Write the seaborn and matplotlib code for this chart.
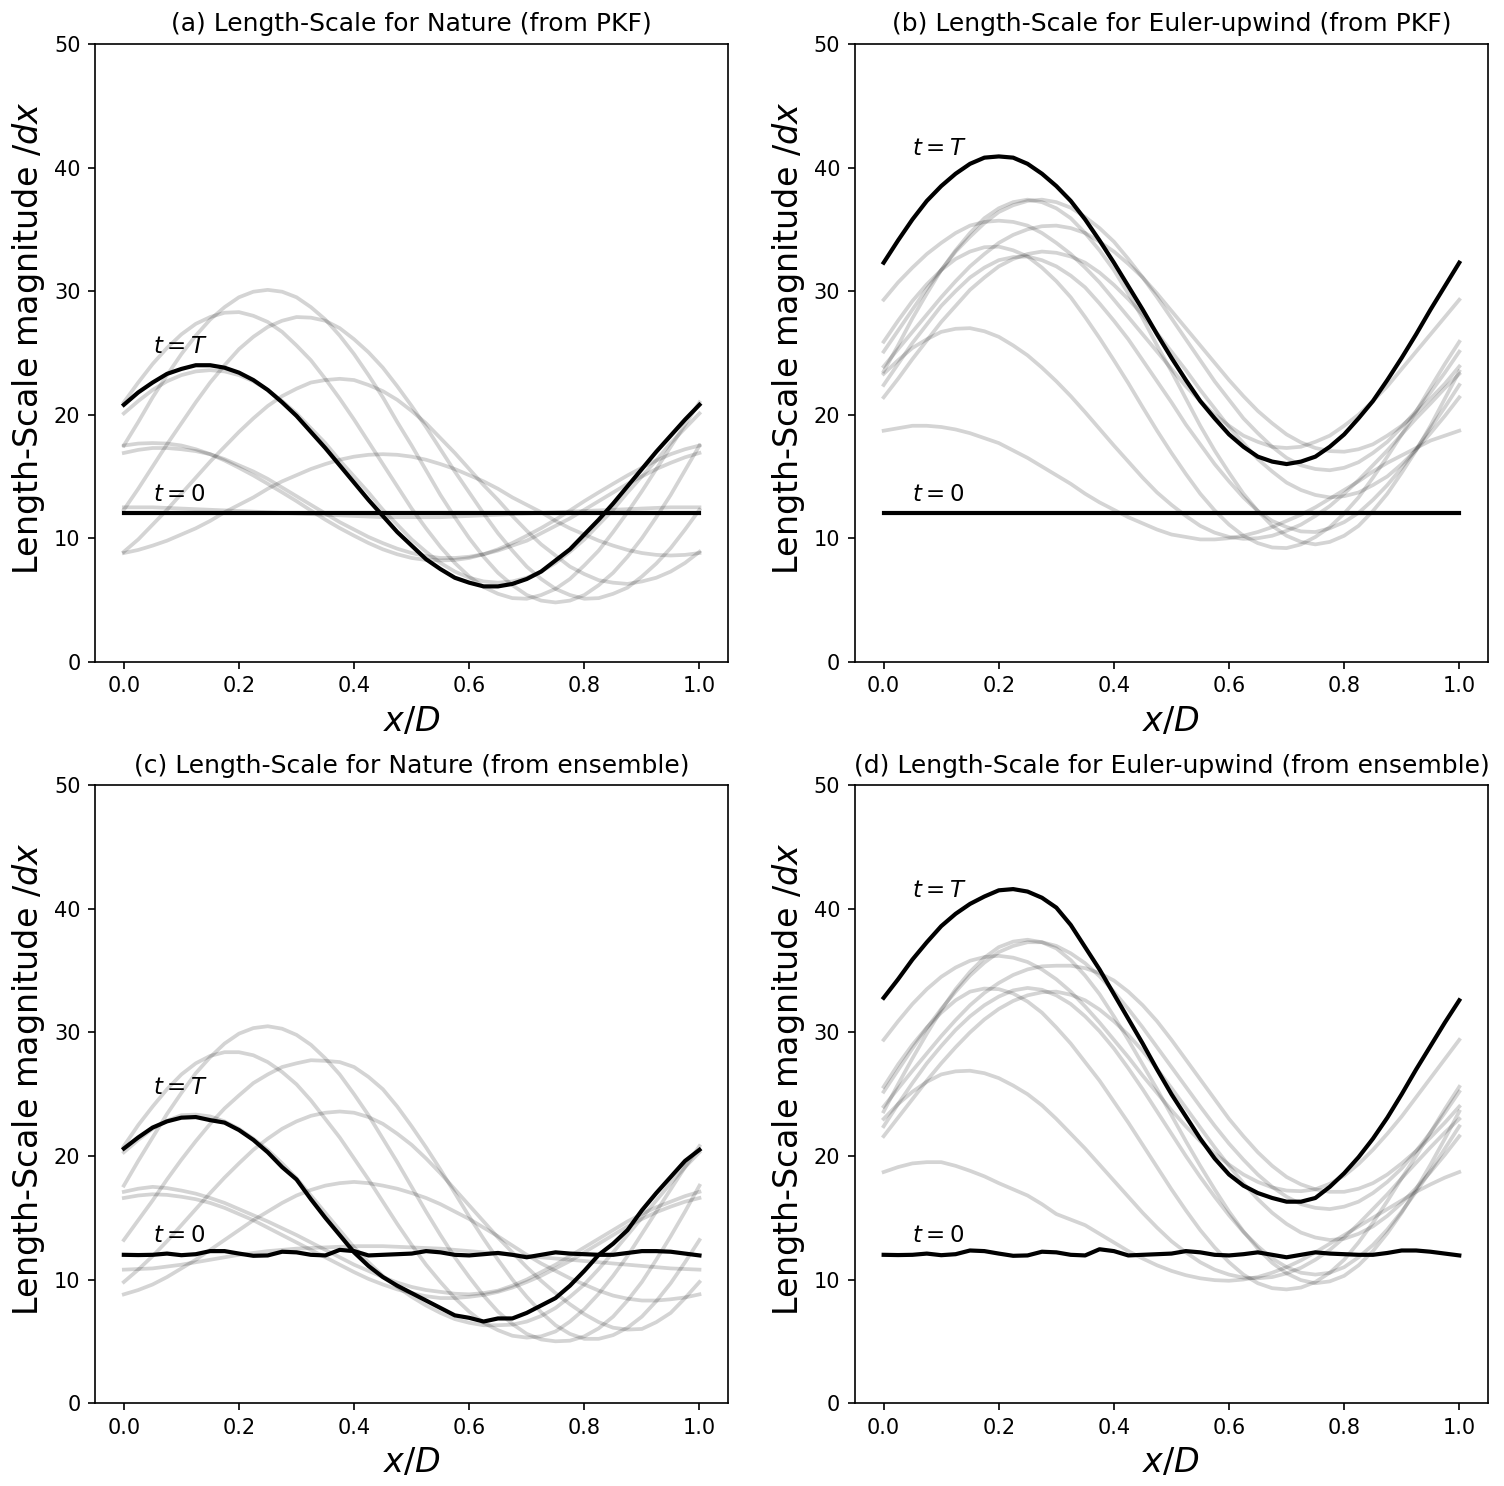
"""Length-scale snapshots for the Nature and Euler-upwind runs (PKF vs ensemble).

Gray lines are intermediate times, black lines are t=0 and t=T.
Writes out.png.
"""

import matplotlib
matplotlib.use("Agg")
import matplotlib.pyplot as plt
import seaborn as sns

sns.set_style("ticks", {
    "axes.edgecolor": "black",
    "axes.labelcolor": "black",
    "text.color": "black",
    "xtick.color": "black",
    "ytick.color": "black",
})
plt.rcParams["font.family"] = ["DejaVu Sans"]
plt.rcParams["lines.solid_capstyle"] = "projecting"

X = [0.0, 0.025, 0.05, 0.075, 0.1, 0.125, 0.15, 0.175, 0.2, 0.225,
     0.25, 0.275, 0.3, 0.325, 0.35, 0.375, 0.4, 0.425, 0.45, 0.475,
     0.5, 0.525, 0.55, 0.575, 0.6, 0.625, 0.65, 0.675, 0.7, 0.725,
     0.75, 0.775, 0.8, 0.825, 0.85, 0.875, 0.9, 0.925, 0.95, 0.975, 1.0]

FLAT_12 = [12.0] * 41

# (a) Nature, PKF
NAT_PKF_T = [20.8, 21.8, 22.6, 23.3, 23.7, 24.0, 24.0, 23.8, 23.4, 22.8,
             22.0, 21.0, 19.9, 18.6, 17.3, 15.9, 14.5, 13.1, 11.8, 10.5,
             9.4, 8.3, 7.5, 6.8, 6.4, 6.1, 6.1, 6.3, 6.7, 7.3,
             8.2, 9.1, 10.3, 11.5, 12.8, 14.2, 15.6, 17.0, 18.3, 19.6, 20.8]
NAT_PKF_MID = [
    [17.5, 17.66, 17.7, 17.66, 17.5, 17.2, 16.8, 16.29, 15.7, 15.08, 14.4, 13.71, 13.0, 12.24, 11.5, 10.82, 10.2, 9.61, 9.1, 8.7,
     8.4, 8.24, 8.2, 8.24, 8.4, 8.7, 9.1, 9.61, 10.2, 10.82, 11.5, 12.24, 13.0, 13.71, 14.4, 15.08, 15.7, 16.29, 16.8, 17.2, 17.5],
    [16.9, 17.15, 17.3, 17.3, 17.2, 17.05, 16.8, 16.4, 15.9, 15.4, 14.8, 14.1, 13.4, 12.7, 12.0, 11.3, 10.7, 10.1, 9.6, 9.15,
     8.8, 8.55, 8.4, 8.4, 8.5, 8.7, 9.0, 9.4, 9.8, 10.4, 11.0, 11.6, 12.3, 13.0, 13.7, 14.4, 15.0, 15.6, 16.1, 16.55, 16.9],
    [20.1, 21.1, 22.0, 22.7, 23.2, 23.5, 23.6, 23.5, 23.2, 22.7, 22.0, 21.1, 20.1, 18.9, 17.7, 16.3, 15.0, 13.7, 12.3, 11.1,
     9.9, 8.9, 8.0, 7.3, 6.8, 6.5, 6.4, 6.5, 6.8, 7.3, 8.0, 8.9, 9.9, 11.1, 12.3, 13.7, 15.0, 16.3, 17.7, 18.9, 20.1],
    [21.0, 22.6, 24.1, 25.4, 26.5, 27.35, 27.9, 28.25, 28.3, 28.0, 27.5, 26.7, 25.6, 24.4, 22.9, 21.3, 19.6, 17.8, 16.0, 14.2,
     12.4, 10.8, 9.3, 8.0, 6.9, 6.05, 5.5, 5.15, 5.1, 5.4, 5.9, 6.7, 7.8, 9.0, 10.5, 12.1, 13.8, 15.6, 17.4, 19.2, 21.0],
    [17.5, 19.4, 21.4, 23.2, 24.9, 26.4, 27.7, 28.7, 29.5, 29.95, 30.1, 29.95, 29.5, 28.7, 27.7, 26.4, 24.9, 23.2, 21.4, 19.4,
     17.5, 15.5, 13.5, 11.7, 10.0, 8.5, 7.2, 6.2, 5.4, 4.95, 4.8, 4.95, 5.4, 6.2, 7.2, 8.5, 10.0, 11.7, 13.5, 15.5, 17.5],
    [12.3, 14.0, 15.8, 17.6, 19.3, 21.0, 22.6, 24.0, 25.3, 26.3, 27.1, 27.6, 27.9, 27.85, 27.6, 27.0, 26.1, 25.05, 23.8, 22.3,
     20.7, 19.0, 17.2, 15.4, 13.7, 12.0, 10.4, 9.0, 7.7, 6.7, 5.9, 5.4, 5.1, 5.15, 5.5, 6.0, 6.9, 7.95, 9.2, 10.7, 12.3],
    [8.9, 9.9, 11.1, 12.3, 13.6, 14.9, 16.2, 17.4, 18.6, 19.7, 20.7, 21.5, 22.1, 22.6, 22.8, 22.9, 22.8, 22.4, 21.9, 21.2,
     20.3, 19.3, 18.1, 16.9, 15.6, 14.3, 13.1, 11.8, 10.6, 9.5, 8.6, 7.7, 7.1, 6.6, 6.4, 6.3, 6.5, 6.8, 7.3, 8.0, 8.9],
    [8.8, 9.05, 9.4, 9.8, 10.3, 10.8, 11.4, 12.1, 12.7, 13.3, 14.0, 14.6, 15.1, 15.6, 16.0, 16.35, 16.6, 16.75, 16.8, 16.75,
     16.6, 16.35, 16.0, 15.6, 15.1, 14.6, 14.0, 13.3, 12.7, 12.1, 11.4, 10.8, 10.3, 9.8, 9.4, 9.05, 8.8, 8.65, 8.6, 8.65, 8.8],
    [12.5, 12.5, 12.5, 12.45, 12.4, 12.35, 12.3, 12.25, 12.2, 12.15, 12.1, 12.05, 12.0, 11.95, 11.9, 11.85, 11.8, 11.75, 11.7, 11.7,
     11.7, 11.7, 11.7, 11.75, 11.8, 11.85, 11.9, 11.95, 12.0, 12.05, 12.1, 12.15, 12.2, 12.25, 12.3, 12.35, 12.4, 12.45, 12.5, 12.5, 12.5],
]

# (b) Euler-upwind, PKF
EUL_PKF_T = [32.3, 34.1, 35.8, 37.3, 38.5, 39.5, 40.3, 40.8, 40.9, 40.8,
             40.3, 39.5, 38.5, 37.3, 35.8, 34.1, 32.3, 30.4, 28.5, 26.5,
             24.6, 22.8, 21.1, 19.7, 18.4, 17.4, 16.6, 16.2, 16.0, 16.2,
             16.6, 17.4, 18.4, 19.7, 21.1, 22.8, 24.6, 26.5, 28.5, 30.4, 32.3]
EUL_PKF_MID = [
    [18.7, 18.9, 19.1, 19.1, 19.0, 18.8, 18.5, 18.1, 17.7, 17.1, 16.5, 15.8, 15.1, 14.4, 13.6, 12.9, 12.3, 11.7, 11.2, 10.7,
     10.3, 10.1, 9.9, 9.9, 10.0, 10.2, 10.5, 10.9, 11.4, 11.9, 12.5, 13.2, 13.9, 14.6, 15.4, 16.1, 16.7, 17.3, 17.9, 18.3, 18.7],
    [23.3, 24.4, 25.4, 26.1, 26.7, 26.95, 27.0, 26.75, 26.3, 25.6, 24.8, 23.8, 22.7, 21.5, 20.2, 18.85, 17.5, 16.2, 14.9, 13.7,
     12.7, 11.8, 11.0, 10.45, 10.1, 9.95, 10.0, 10.2, 10.6, 11.1, 11.8, 12.6, 13.6, 14.7, 15.9, 17.1, 18.4, 19.7, 20.9, 22.15, 23.3],
    [29.3, 30.7, 31.9, 33.0, 33.9, 34.7, 35.3, 35.6, 35.7, 35.6, 35.3, 34.7, 33.9, 33.0, 31.9, 30.7, 29.3, 27.9, 26.5, 25.1,
     23.7, 22.3, 21.1, 20.0, 19.1, 18.3, 17.8, 17.4, 17.3, 17.4, 17.8, 18.3, 19.1, 20.0, 21.1, 22.3, 23.7, 25.1, 26.5, 27.9, 29.3],
    [25.9, 27.6, 29.2, 30.55, 31.7, 32.6, 33.2, 33.55, 33.6, 33.3, 32.8, 31.9, 30.8, 29.5, 27.9, 26.2, 24.4, 22.55, 20.6, 18.7,
     16.9, 15.2, 13.6, 12.25, 11.1, 10.2, 9.6, 9.25, 9.2, 9.5, 10.1, 10.9, 12.0, 13.3, 14.9, 16.6, 18.4, 20.25, 22.2, 24.1, 25.9],
    [23.5, 25.6, 27.8, 29.8, 31.7, 33.3, 34.7, 35.9, 36.7, 37.2, 37.4, 37.2, 36.7, 35.9, 34.7, 33.3, 31.7, 29.8, 27.8, 25.6,
     23.5, 21.3, 19.1, 17.1, 15.3, 13.6, 12.2, 11.0, 10.2, 9.7, 9.5, 9.7, 10.2, 11.0, 12.2, 13.6, 15.3, 17.1, 19.1, 21.3, 23.5],
    [25.1, 26.8, 28.5, 30.2, 31.7, 33.2, 34.4, 35.5, 36.4, 36.95, 37.3, 37.4, 37.2, 36.75, 36.0, 35.1, 34.0, 32.6, 31.1, 29.5,
     27.8, 26.1, 24.4, 22.7, 21.2, 19.7, 18.5, 17.4, 16.5, 15.9, 15.6, 15.5, 15.7, 16.15, 16.9, 17.8, 19.0, 20.3, 21.8, 23.4, 25.1],
    [23.9, 25.3, 26.7, 28.1, 29.5, 30.8, 32.0, 33.0, 33.9, 34.55, 35.0, 35.25, 35.3, 35.1, 34.7, 34.0, 33.2, 32.2, 31.1, 29.8,
     28.4, 27.0, 25.6, 24.2, 22.8, 21.5, 20.3, 19.3, 18.4, 17.75, 17.3, 17.05, 17.0, 17.2, 17.6, 18.3, 19.1, 20.1, 21.3, 22.5, 23.9],
    [21.4, 22.9, 24.5, 26.0, 27.5, 28.8, 30.1, 31.1, 32.0, 32.6, 33.0, 33.2, 33.1, 32.8, 32.3, 31.5, 30.5, 29.35, 28.1, 26.6,
     25.1, 23.6, 22.0, 20.5, 19.0, 17.7, 16.4, 15.4, 14.5, 13.9, 13.5, 13.3, 13.4, 13.7, 14.3, 15.0, 16.0, 17.15, 18.5, 19.9, 21.4],
    [22.4, 24.1, 25.8, 27.3, 28.8, 30.0, 31.1, 31.9, 32.5, 32.75, 32.8, 32.5, 32.0, 31.25, 30.3, 29.0, 27.6, 26.1, 24.4, 22.7,
     21.0, 19.2, 17.6, 16.0, 14.6, 13.3, 12.2, 11.4, 10.9, 10.55, 10.5, 10.8, 11.3, 12.05, 13.1, 14.3, 15.7, 17.2, 18.9, 20.6, 22.4],
]

# (c) Nature, ensemble
NAT_ENS_0 = [12.0, 11.98, 12.0, 12.1, 11.97, 12.05, 12.3, 12.3, 12.1, 11.92,
             11.95, 12.25, 12.2, 12.0, 11.95, 12.4, 12.3, 11.95, 12.0, 12.05,
             12.1, 12.3, 12.2, 12.0, 11.95, 12.05, 12.15, 12.0, 11.8, 12.0,
             12.2, 12.1, 12.05, 12.0, 12.0, 12.15, 12.3, 12.3, 12.25, 12.1, 11.95]
NAT_ENS_T = [20.6, 21.5, 22.3, 22.8, 23.1, 23.15, 22.9, 22.7, 22.1, 21.3,
             20.3, 19.1, 18.1, 16.5, 15.0, 13.6, 12.2, 11.1, 10.2, 9.5,
             8.9, 8.3, 7.7, 7.1, 6.9, 6.6, 6.85, 6.85, 7.3, 7.9,
             8.5, 9.5, 10.7, 12.0, 12.9, 14.0, 15.6, 17.0, 18.3, 19.6, 20.5]
NAT_ENS_MID = [
    [17.1, 17.35, 17.5, 17.4, 17.2, 16.95, 16.6, 16.2, 15.7, 15.2, 14.7, 14.15, 13.6, 13.0, 12.4, 11.8, 11.2, 10.7, 10.2, 9.75,
     9.4, 9.15, 9.0, 8.85, 8.8, 8.9, 9.1, 9.5, 10.0, 10.6, 11.2, 11.9, 12.6, 13.3, 14.0, 14.7, 15.3, 15.85, 16.3, 16.75, 17.1],
    [16.6, 16.8, 16.9, 16.85, 16.7, 16.5, 16.2, 15.8, 15.3, 14.8, 14.2, 13.6, 13.0, 12.4, 11.8, 11.2, 10.6, 10.05, 9.6, 9.2,
     8.9, 8.65, 8.5, 8.5, 8.6, 8.75, 9.0, 9.35, 9.8, 10.3, 10.9, 11.5, 12.2, 12.9, 13.6, 14.3, 14.9, 15.45, 15.9, 16.3, 16.6],
    [20.3, 21.3, 22.2, 22.85, 23.3, 23.35, 23.2, 22.8, 22.2, 21.4, 20.5, 19.4, 18.2, 16.8, 15.4, 14.0, 12.6, 11.4, 10.3, 9.4,
     8.6, 7.9, 7.3, 6.8, 6.5, 6.3, 6.3, 6.35, 6.6, 7.05, 7.7, 8.6, 9.6, 10.85, 12.2, 13.6, 15.0, 16.4, 17.8, 19.1, 20.3],
    [20.8, 22.5, 24.0, 25.4, 26.6, 27.5, 28.1, 28.4, 28.4, 28.15, 27.6, 26.8, 25.8, 24.5, 23.0, 21.5, 19.8, 18.1, 16.3, 14.5,
     12.8, 11.2, 9.8, 8.5, 7.4, 6.5, 5.9, 5.45, 5.3, 5.4, 5.8, 6.6, 7.6, 8.85, 10.3, 11.9, 13.7, 15.5, 17.3, 19.1, 20.8],
    [17.6, 19.6, 21.5, 23.4, 25.1, 26.7, 28.0, 29.1, 29.9, 30.35, 30.5, 30.3, 29.8, 29.0, 27.9, 26.6, 25.0, 23.3, 21.4, 19.5,
     17.5, 15.5, 13.6, 11.8, 10.2, 8.7, 7.4, 6.4, 5.6, 5.15, 5.0, 5.05, 5.4, 6.05, 7.0, 8.3, 9.8, 11.6, 13.5, 15.5, 17.6],
    [13.2, 14.8, 16.4, 18.1, 19.7, 21.2, 22.6, 23.85, 24.9, 25.9, 26.6, 27.2, 27.5, 27.75, 27.7, 27.6, 27.2, 26.4, 25.4, 24.0,
     22.4, 20.7, 18.9, 17.0, 15.1, 13.3, 11.6, 10.0, 8.6, 7.35, 6.3, 5.6, 5.2, 5.2, 5.5, 6.1, 7.0, 8.25, 9.7, 11.4, 13.2],
    [9.8, 10.8, 11.9, 13.1, 14.4, 15.7, 17.0, 18.25, 19.4, 20.5, 21.4, 22.2, 22.8, 23.25, 23.5, 23.6, 23.5, 23.15, 22.6, 21.8,
     20.9, 19.8, 18.6, 17.3, 16.0, 14.7, 13.4, 12.2, 11.0, 9.9, 8.9, 8.0, 7.2, 6.55, 6.1, 5.95, 6.0, 6.55, 7.3, 8.5, 9.8],
    [8.8, 9.15, 9.6, 10.2, 10.9, 11.6, 12.4, 13.2, 14.0, 14.8, 15.5, 16.2, 16.8, 17.25, 17.6, 17.8, 17.9, 17.8, 17.6, 17.35,
     17.0, 16.6, 16.1, 15.5, 14.9, 14.2, 13.5, 12.75, 12.0, 11.3, 10.7, 10.1, 9.6, 9.1, 8.7, 8.45, 8.3, 8.3, 8.4, 8.55, 8.8],
    [10.8, 10.85, 10.9, 11.05, 11.2, 11.4, 11.6, 11.8, 12.0, 12.15, 12.3, 12.4, 12.5, 12.55, 12.6, 12.65, 12.7, 12.7, 12.7, 12.65,
     12.6, 12.55, 12.5, 12.4, 12.3, 12.2, 12.1, 12.0, 11.9, 11.8, 11.7, 11.6, 11.5, 11.4, 11.3, 11.2, 11.1, 11.0, 10.9, 10.85, 10.8],
]

# (d) Euler-upwind, ensemble
EUL_ENS_0 = [12.0, 11.98, 12.0, 12.1, 11.97, 12.05, 12.35, 12.3, 12.1, 11.92,
             11.95, 12.25, 12.2, 12.0, 11.95, 12.45, 12.3, 11.95, 12.0, 12.05,
             12.1, 12.3, 12.2, 12.0, 11.95, 12.05, 12.2, 12.0, 11.8, 12.0,
             12.2, 12.1, 12.05, 12.0, 12.0, 12.15, 12.35, 12.35, 12.25, 12.1, 11.95]
EUL_ENS_T = [32.8, 34.3, 35.9, 37.3, 38.6, 39.6, 40.4, 41.0, 41.5, 41.6,
             41.4, 40.9, 40.1, 38.7, 36.9, 35.1, 33.1, 31.1, 29.1, 27.0,
             25.0, 23.2, 21.4, 19.8, 18.5, 17.6, 17.0, 16.6, 16.3, 16.3,
             16.6, 17.5, 18.6, 19.9, 21.4, 23.1, 25.0, 27.0, 28.9, 30.8, 32.6]
EUL_ENS_MID = [
    [18.7, 19.1, 19.4, 19.5, 19.5, 19.2, 18.8, 18.35, 17.8, 17.3, 16.8, 16.1, 15.3, 14.85, 14.4, 13.7, 13.0, 12.3, 11.7, 11.15,
     10.7, 10.35, 10.1, 9.95, 9.9, 10.0, 10.2, 10.55, 11.0, 11.55, 12.2, 12.9, 13.6, 14.3, 15.0, 15.7, 16.4, 17.1, 17.7, 18.25, 18.7],
    [23.0, 24.2, 25.2, 26.0, 26.6, 26.85, 26.9, 26.7, 26.3, 25.7, 25.0, 24.1, 23.0, 21.8, 20.6, 19.3, 18.0, 16.7, 15.4, 14.2,
     13.1, 12.2, 11.4, 10.8, 10.4, 10.15, 10.1, 10.2, 10.5, 10.95, 11.6, 12.4, 13.4, 14.5, 15.7, 16.9, 18.2, 19.45, 20.7, 21.9, 23.0],
    [29.4, 30.9, 32.3, 33.5, 34.5, 35.25, 35.8, 36.1, 36.2, 36.05, 35.7, 35.1, 34.3, 33.3, 32.1, 30.8, 29.4, 28.0, 26.5, 25.1,
     23.7, 22.4, 21.2, 20.2, 19.3, 18.5, 17.9, 17.45, 17.2, 17.15, 17.3, 17.75, 18.4, 19.35, 20.5, 21.8, 23.2, 24.75, 26.3, 27.85, 29.4],
    [25.6, 27.4, 29.0, 30.4, 31.6, 32.6, 33.3, 33.55, 33.5, 33.15, 32.5, 31.6, 30.4, 29.1, 27.6, 26.1, 24.4, 22.7, 20.9, 19.1,
     17.3, 15.6, 14.0, 12.6, 11.4, 10.4, 9.7, 9.3, 9.2, 9.35, 9.8, 10.55, 11.6, 13.0, 14.6, 16.35, 18.2, 20.0, 21.9, 23.8, 25.6],
    [23.6, 25.8, 27.9, 29.9, 31.8, 33.5, 34.9, 36.05, 36.9, 37.35, 37.5, 37.3, 36.8, 35.85, 34.6, 33.1, 31.3, 29.4, 27.4, 25.4,
     23.3, 21.2, 19.2, 17.3, 15.5, 13.9, 12.5, 11.35, 10.5, 9.95, 9.7, 9.85, 10.3, 11.15, 12.3, 13.75, 15.4, 17.3, 19.3, 21.4, 23.6],
    [25.2, 26.95, 28.7, 30.35, 31.9, 33.3, 34.6, 35.65, 36.5, 37.0, 37.3, 37.3, 37.0, 36.4, 35.6, 34.55, 33.3, 31.9, 30.4, 28.8,
     27.2, 25.6, 24.0, 22.45, 21.0, 19.7, 18.5, 17.5, 16.7, 16.1, 15.8, 15.7, 15.9, 16.3, 17.0, 17.9, 19.0, 20.4, 21.9, 23.5, 25.2],
    [24.0, 25.45, 26.9, 28.3, 29.7, 31.0, 32.2, 33.2, 34.0, 34.65, 35.1, 35.35, 35.4, 35.4, 35.2, 34.8, 34.2, 33.3, 32.2, 30.9,
     29.4, 27.8, 26.2, 24.6, 23.0, 21.6, 20.3, 19.2, 18.3, 17.7, 17.3, 17.1, 17.1, 17.35, 17.8, 18.5, 19.4, 20.4, 21.5, 22.7, 24.0],
    [21.6, 23.1, 24.6, 26.1, 27.5, 28.8, 30.0, 31.05, 31.9, 32.55, 33.0, 33.25, 33.3, 33.05, 32.6, 31.85, 30.9, 29.8, 28.5, 27.05,
     25.5, 23.9, 22.3, 20.7, 19.2, 17.8, 16.5, 15.4, 14.5, 13.8, 13.4, 13.2, 13.3, 13.7, 14.3, 15.15, 16.2, 17.4, 18.7, 20.1, 21.6],
    [22.4, 24.2, 25.9, 27.5, 28.9, 30.2, 31.3, 32.2, 32.9, 33.4, 33.6, 33.45, 33.0, 32.3, 31.3, 30.1, 28.7, 27.1, 25.4, 23.6,
     21.8, 20.0, 18.3, 16.7, 15.2, 13.85, 12.7, 11.7, 11.0, 10.55, 10.4, 10.55, 11.0, 11.8, 12.8, 14.05, 15.5, 17.1, 18.8, 20.6, 22.4],
]

TITLES = [
    "(a) Length-Scale for Nature (from PKF)",
    "(b) Length-Scale for Euler-upwind (from PKF)",
    "(c) Length-Scale for Nature (from ensemble)",
    "(d) Length-Scale for Euler-upwind (from ensemble)",
]
LABEL_T_Y = [25, 41, 25, 41]


def draw_panel(ax, title, mids, t0, tT, label_t_y):
    for curve in mids:
        sns.lineplot(x=X, y=curve, ax=ax, color="k", alpha=0.17, lw=1.8)
    sns.lineplot(x=X, y=t0, ax=ax, color="k", lw=2)
    sns.lineplot(x=X, y=tT, ax=ax, color="k", lw=2)
    ax.text(0.05, 13, r"$t=0$", fontsize=11)
    ax.text(0.05, label_t_y, r"$t=T$", fontsize=11)
    ax.set_ylim(0, 50)
    ax.set_title(title, fontsize=12)
    ax.set_xlabel(r"$x/D$", fontsize=16)
    ax.set_ylabel(r"Length-Scale magnitude $/dx$", fontsize=16)
    ax.yaxis.set_label_coords(-0.0755, 0.524)


def main() -> None:
    fig, axes = plt.subplots(2, 2, figsize=(1504 / 150, 1486 / 150), dpi=150)
    fig.subplots_adjust(left=0.0632, right=0.9894, bottom=0.0558, top=0.9704,
                        wspace=0.2, hspace=0.2)
    data = [
        (NAT_PKF_MID, FLAT_12, NAT_PKF_T),
        (EUL_PKF_MID, FLAT_12, EUL_PKF_T),
        (NAT_ENS_MID, NAT_ENS_0, NAT_ENS_T),
        (EUL_ENS_MID, EUL_ENS_0, EUL_ENS_T),
    ]
    for ax, title, (mids, t0, tT), ly in zip(axes.flat, TITLES, data, LABEL_T_Y):
        draw_panel(ax, title, mids, t0, tT, ly)
    fig.savefig("out.png", dpi=150)
    plt.close(fig)


if __name__ == "__main__":
    main()
